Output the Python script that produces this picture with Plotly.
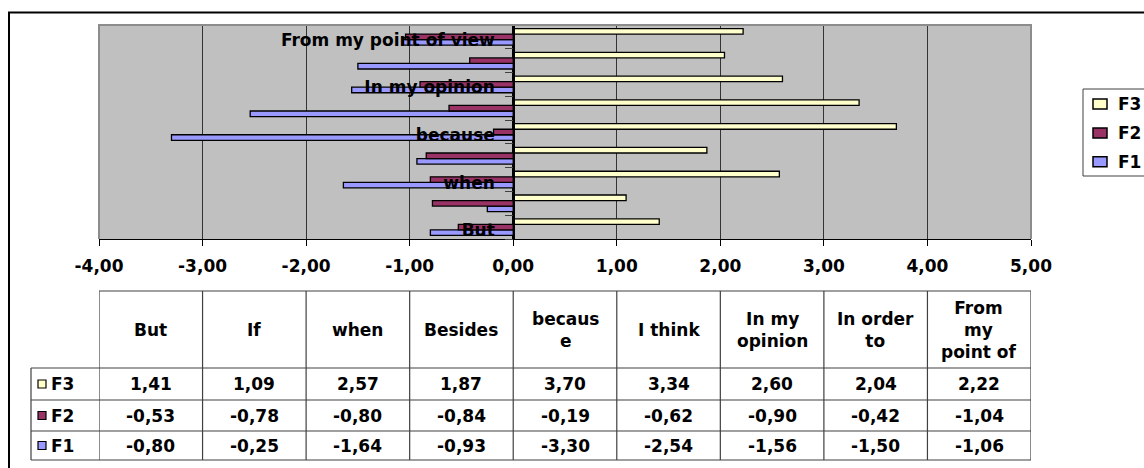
import plotly.graph_objects as go

# ---- data -----------------------------------------------------------------
categories = ["But", "If", "when", "Besides", "because", "I think",
              "In my opinion", "In order to", "From my point of view"]
table_headers = ["But", "If", "when", "Besides", "becaus<br>e", "I think",
                 "In my<br>opinion", "In order<br>to", "From<br>my<br>point of"]

f1 = [-0.80, -0.25, -1.64, -0.93, -3.30, -2.54, -1.56, -1.50, -1.06]
f2 = [-0.53, -0.78, -0.80, -0.84, -0.19, -0.62, -0.90, -0.42, -1.04]
f3 = [1.41, 1.09, 2.57, 1.87, 3.70, 3.34, 2.60, 2.04, 2.22]

series_names = ["F1", "F2", "F3"]
series_values = [f1, f2, f3]
series_colors = ["#9999FF", "#993366", "#FFFFCC"]

x_ticks = [-4, -3, -2, -1, 0, 1, 2, 3, 4, 5]
x_tick_labels = ["-4,00", "-3,00", "-2,00", "-1,00", "0,00",
                 "1,00", "2,00", "3,00", "4,00", "5,00"]

# ---- styling --------------------------------------------------------------
FONT = dict(family="DejaVu Sans", size=17, color="black", weight="bold")
LINE_DARK = "#404040"


def fmt(v):
    return f"{v:.2f}".replace(".", ",")


x_min, x_max = x_ticks[0], x_ticks[-1]
n_cat = len(categories)
col_w = (x_max - x_min) / n_cat
col_edges = [x_min + i * col_w for i in range(n_cat + 1)]
col_centers = [x_min + (i + 0.5) * col_w for i in range(n_cat)]
zero_pos = (0 - x_min) / (x_max - x_min)

fig = go.Figure()
for name, vals, color in zip(series_names, series_values, series_colors):
    fig.add_trace(go.Bar(
        y=categories, x=vals, name=name, orientation="h",
        marker=dict(color=color, line=dict(color="black", width=1.3)),
        showlegend=False, hoverinfo="skip",
    ))

shapes = []
annotations = []

# outer chart frame (runs past the right and bottom edges of the page)
shapes.append(dict(type="rect", xref="paper", yref="paper",
                   xsizemode="pixel", xanchor=0, x0=-90, x1=1300,
                   ysizemode="pixel", yanchor=1, y0=12.5, y1=-700,
                   line=dict(color="black", width=2), layer="below"))

# plot-area frame: left, top and right sides in grey
shapes.append(dict(type="path", xref="paper", yref="paper",
                   path="M0,0 L0,1 L1,1 L1,0",
                   line=dict(color="#8C8C8C", width=2), layer="above"))

# ---- data table under the axis -------------------------------------------
TABLE_TOP = -52
HEADER_BOTTOM = -129
ROW_BOTTOMS = [-161, -192, -221]
LABEL_COL = -68

row_tops = [HEADER_BOTTOM] + ROW_BOTTOMS[:-1]
row_centers = [(t + b) / 2 for t, b in zip(row_tops, ROW_BOTTOMS)]
table_bottom = ROW_BOTTOMS[-1]

for e in col_edges:
    shapes.append(dict(type="line", xref="x", x0=e, x1=e,
                       yref="paper", ysizemode="pixel", yanchor=0,
                       y0=TABLE_TOP, y1=table_bottom,
                       line=dict(color=LINE_DARK, width=1.2)))
shapes.append(dict(type="line", xref="paper", xsizemode="pixel", xanchor=0,
                   x0=LABEL_COL, x1=LABEL_COL,
                   yref="paper", ysizemode="pixel", yanchor=0,
                   y0=HEADER_BOTTOM, y1=table_bottom,
                   line=dict(color=LINE_DARK, width=1.2)))
shapes.append(dict(type="line", xref="x", x0=x_min, x1=x_max,
                   yref="paper", ysizemode="pixel", yanchor=0,
                   y0=TABLE_TOP, y1=TABLE_TOP,
                   line=dict(color=LINE_DARK, width=1.2)))
for yb in [HEADER_BOTTOM] + ROW_BOTTOMS:
    shapes.append(dict(type="line", xref="x", x0=x_min, x1=x_max,
                       yref="paper", ysizemode="pixel", yanchor=0,
                       y0=yb, y1=yb,
                       line=dict(color=LINE_DARK, width=1.2)))
    shapes.append(dict(type="line", xref="paper", xsizemode="pixel", xanchor=0,
                       x0=LABEL_COL, x1=0,
                       yref="paper", ysizemode="pixel", yanchor=0,
                       y0=yb, y1=yb,
                       line=dict(color=LINE_DARK, width=1.2)))

# header row
for xc, head in zip(col_centers, table_headers):
    annotations.append(dict(xref="x", x=xc, yref="paper", y=0,
                            yshift=(TABLE_TOP + HEADER_BOTTOM) / 2,
                            text=head, showarrow=False, font=FONT,
                            align="center", xanchor="center", yanchor="middle"))

# value rows, F3 on top as in the legend
table_order = list(zip(series_names, series_values, series_colors))[::-1]
for (name, vals, color), yc in zip(table_order, row_centers):
    shapes.append(dict(type="rect", xref="paper", xsizemode="pixel", xanchor=0,
                       x0=-61, x1=-53, yref="paper", ysizemode="pixel",
                       yanchor=0, y0=yc + 4, y1=yc - 4,
                       fillcolor=color, line=dict(color="black", width=1.2)))
    annotations.append(dict(xref="paper", x=0, xshift=-50, yref="paper", y=0,
                            yshift=yc, text=name, showarrow=False, font=FONT,
                            xanchor="left", yanchor="middle"))
    for xc, v in zip(col_centers, vals):
        annotations.append(dict(xref="x", x=xc, yref="paper", y=0, yshift=yc,
                                text=fmt(v), showarrow=False, font=FONT,
                                xanchor="center", yanchor="middle"))

# ---- legend box at the right ---------------------------------------------
LEG_TOP, LEG_BOTTOM = -64, -151
leg_rows = [-79, -108, -136.7]
shapes.append(dict(type="rect", xref="paper", xsizemode="pixel", xanchor=1,
                   x0=52, x1=300, yref="paper", ysizemode="pixel", yanchor=1,
                   y0=LEG_TOP, y1=LEG_BOTTOM, fillcolor="white",
                   line=dict(color=LINE_DARK, width=1), layer="below"))
for (name, vals, color), yc in zip(table_order, leg_rows):
    shapes.append(dict(type="rect", xref="paper", xsizemode="pixel", xanchor=1,
                       x0=62, x1=76, yref="paper", ysizemode="pixel",
                       yanchor=1, y0=yc + 5, y1=yc - 5,
                       fillcolor=color, line=dict(color="black", width=1.5)))
    annotations.append(dict(xref="paper", x=1, xshift=85, yref="paper", y=1,
                            yshift=yc, text=name, showarrow=False, font=FONT,
                            xanchor="left", yanchor="middle"))

# every other category gets a label on the axis
y_tick_text = [c if i % 2 == 0 else "" for i, c in enumerate(categories)]

fig.update_layout(
    width=1144, height=468, autosize=False,
    margin=dict(l=99, r=113, t=25, b=229, autoexpand=False),
    paper_bgcolor="white", plot_bgcolor="#C0C0C0",
    barmode="group", bargap=0.3, bargroupgap=0,
    showlegend=False,
    shapes=shapes, annotations=annotations,
    xaxis=dict(range=[x_min, x_max], tickvals=x_ticks, ticktext=x_tick_labels,
               showgrid=True, gridcolor="#333333", gridwidth=1,
               zeroline=True, zerolinecolor="black", zerolinewidth=1.5,
               ticks="outside", ticklen=6, tickcolor="black", tickwidth=1,
               showline=True, linecolor="black", linewidth=1.2,
               tickfont=FONT, ticklabelstandoff=5, fixedrange=True),
    yaxis=dict(type="category", categoryorder="array", categoryarray=categories,
               tickvals=categories, ticktext=y_tick_text, tickson="boundaries",
               range=[-0.5, n_cat - 0.5],
               ticks="outside", ticklen=8, tickcolor=LINE_DARK, tickwidth=1,
               showgrid=False, showline=True, linecolor="black", linewidth=1.5,
               anchor="free", position=zero_pos,
               tickfont=FONT, ticklabelstandoff=15, ticklabelshift=3,
               fixedrange=True),
)

fig.write_html("out.html", config={"displayModeBar": False, "staticPlot": True})
